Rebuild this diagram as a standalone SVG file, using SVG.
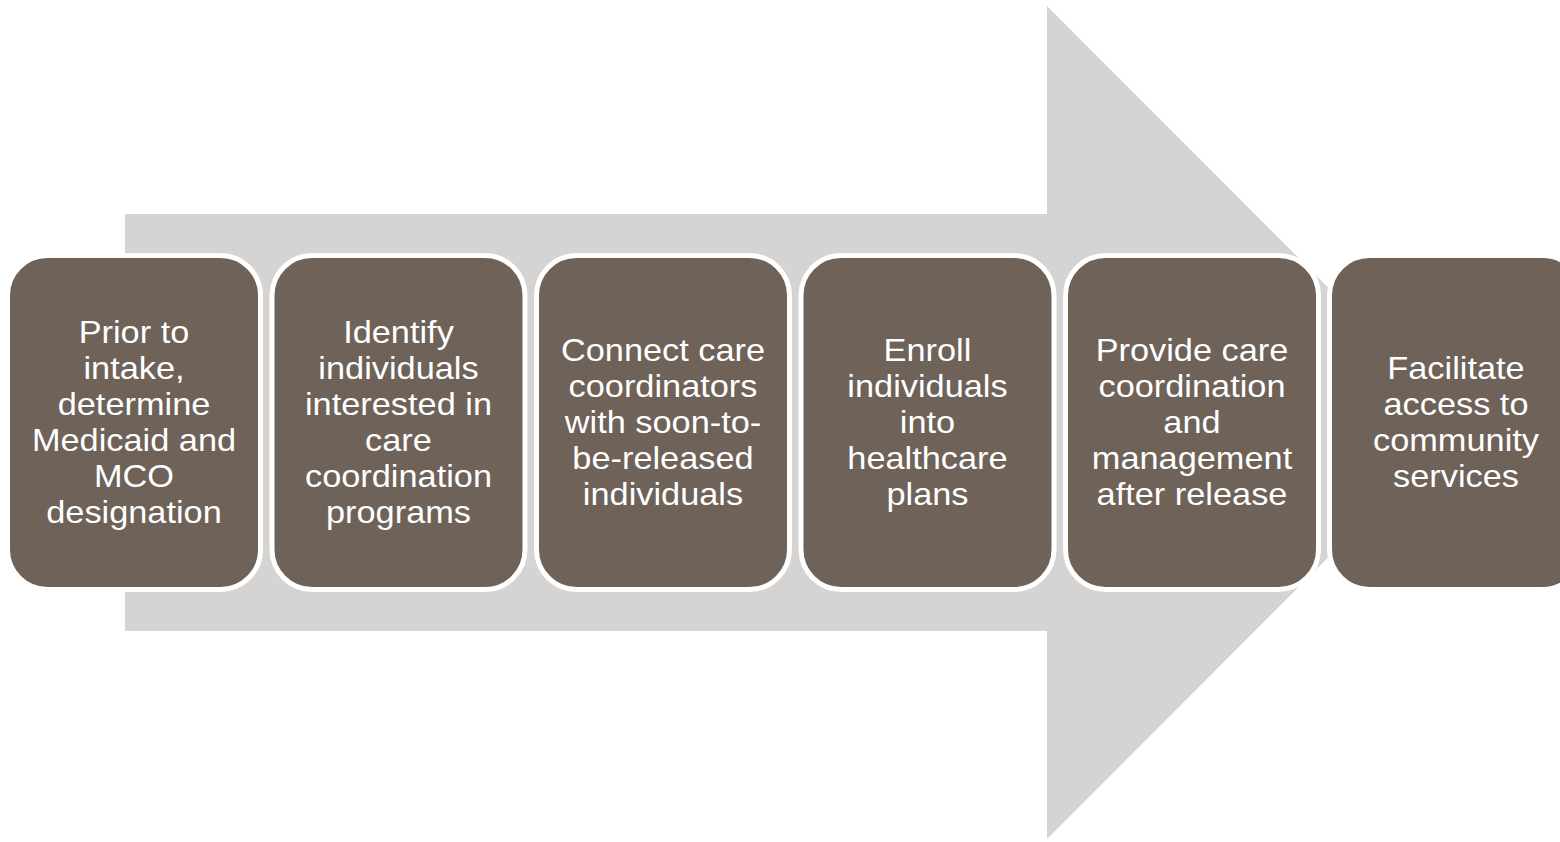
<svg xmlns="http://www.w3.org/2000/svg" width="1560" height="842" viewBox="0 0 1560 842">
<style>
.box{fill:#6E6259;stroke:#FFFFFF;stroke-width:5}
.t{font-family:"Liberation Sans",Arial,sans-serif;font-size:31.5px;fill:#FFFFFF;text-anchor:middle}
</style>
<rect x="0" y="0" width="1560" height="842" fill="#FFFFFF"/>
<g id="connectors">
<polygon id="big-arrow" points="125,214 1047,214 1047,6 1463,422.5 1047,839 1047,631 125,631" fill="#D5D4D2"/>
</g>
<g id="node1">
<rect class="box" x="7.5" y="255.5" width="253" height="334" rx="40"/>
<text class="t" transform="matrix(1.09 0 0 1 -12.06 0)"><tspan x="134" y="343">Prior to</tspan><tspan x="134" y="379">intake,</tspan><tspan x="134" y="415">determine</tspan><tspan x="134" y="451">Medicaid and</tspan><tspan x="134" y="487">MCO</tspan><tspan x="134" y="523">designation</tspan></text>
</g>
<g id="node2">
<rect class="box" x="272" y="255.5" width="253" height="334" rx="40"/>
<text class="t" transform="matrix(1.09 0 0 1 -35.865 0)"><tspan x="398.5" y="343">Identify</tspan><tspan x="398.5" y="379">individuals</tspan><tspan x="398.5" y="415">interested in</tspan><tspan x="398.5" y="451">care</tspan><tspan x="398.5" y="487">coordination</tspan><tspan x="398.5" y="523">programs</tspan></text>
</g>
<g id="node3">
<rect class="box" x="536.5" y="255.5" width="253" height="334" rx="40"/>
<text class="t" transform="matrix(1.09 0 0 1 -59.67 0)"><tspan x="663" y="361">Connect care</tspan><tspan x="663" y="397">coordinators</tspan><tspan x="663" y="433">with soon-to-</tspan><tspan x="663" y="469">be-released</tspan><tspan x="663" y="505">individuals</tspan></text>
</g>
<g id="node4">
<rect class="box" x="801" y="255.5" width="253" height="334" rx="40"/>
<text class="t" transform="matrix(1.09 0 0 1 -83.475 0)"><tspan x="927.5" y="361">Enroll</tspan><tspan x="927.5" y="397">individuals</tspan><tspan x="927.5" y="433">into</tspan><tspan x="927.5" y="469">healthcare</tspan><tspan x="927.5" y="505">plans</tspan></text>
</g>
<g id="node5">
<rect class="box" x="1065.5" y="255.5" width="253" height="334" rx="40"/>
<text class="t" transform="matrix(1.09 0 0 1 -107.28 0)"><tspan x="1192" y="361">Provide care</tspan><tspan x="1192" y="397">coordination</tspan><tspan x="1192" y="433">and</tspan><tspan x="1192" y="469">management</tspan><tspan x="1192" y="505">after release</tspan></text>
</g>
<g id="node6">
<rect class="box" x="1329.5" y="255.5" width="253" height="334" rx="40"/>
<text class="t" transform="matrix(1.09 0 0 1 -131.04 0)"><tspan x="1456" y="379">Facilitate</tspan><tspan x="1456" y="415">access to</tspan><tspan x="1456" y="451">community</tspan><tspan x="1456" y="487">services</tspan></text>
</g>
</svg>
